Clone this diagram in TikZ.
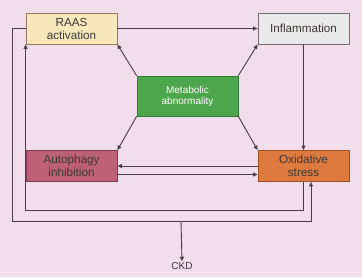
\documentclass[tikz,border=0pt]{standalone}
\usepackage{fontspec}
\setmainfont{Liberation Sans}
\usepackage{tikz}
\usetikzlibrary{arrows.meta,positioning,calc}
\definecolor{bgpink}{RGB}{242,221,234}
\definecolor{linedark}{RGB}{75,60,75}
\definecolor{txtdark}{RGB}{60,55,55}
\definecolor{raasfill}{RGB}{246,232,186}
\definecolor{raasline}{RGB}{150,120,95}
\definecolor{inflfill}{RGB}{233,233,233}
\definecolor{inflline}{RGB}{115,110,115}
\definecolor{metafill}{RGB}{76,166,76}
\definecolor{metaline}{RGB}{50,120,55}
\definecolor{autofill}{RGB}{190,96,122}
\definecolor{autoline}{RGB}{130,60,80}
\definecolor{oxidfill}{RGB}{222,122,62}
\definecolor{oxidline}{RGB}{160,80,40}

\begin{document}
\begin{tikzpicture}[x=1pt, y=-1pt,
    box/.style={draw, line width=0.8pt, minimum height=31pt, minimum width=91pt, inner sep=1pt, font=\fontsize{11.7}{13}\selectfont, align=center, text=txtdark},
    arr/.style={-{Triangle[length=4.5pt,width=4pt]}, line width=0.9pt, draw=linedark}
]
\fill[bgpink] (0,0) rectangle (362,277);
\useasboundingbox (0,0) rectangle (362,277);

\node[box, fill=raasfill, draw=raasline] (raas) at (71.5,28.5) {RAAS\\activation};
\node[box, fill=inflfill, draw=inflline] (infl) at (303.5,28.5) {Inflammation};
\node[box, fill=metafill, draw=metaline, minimum width=101pt, minimum height=40pt, text=white, font=\fontsize{10}{11}\selectfont] (meta) at (187.5,96) {Metabolic\\abnormality};
\node[box, fill=autofill, draw=autoline] (auto) at (71.5,166) {Autophagy\\inhibition};
\node[box, fill=oxidfill, draw=oxidline] (oxid) at (303.5,166) {Oxidative\\stress};
\node[font=\fontsize{10}{12}\selectfont, text=txtdark, inner sep=1pt] (ckd) at (182,266) {CKD};

\draw[arr] (meta.north west) -- (raas.south east);
\draw[arr] (meta.north east) -- (infl.south west);
\draw[arr] (meta.south west) -- (auto.north east);
\draw[arr] (meta.south east) -- (oxid.north west);

\draw[arr] (raas) -- (infl);
\draw[arr] (infl) -- (oxid);
\draw[arr] (oxid.west) -- (auto.east);
\draw[arr] ([yshift=-8.5pt]auto.east) -- ([yshift=-8.5pt]oxid.west);

% loops under the boxes
\coordinate (split) at (181,221);
\draw[arr] (raas.west) -| (12,221) -| ([xshift=7.5pt]oxid.south);
\draw[arr] (oxid.south) -- ++(0,29) -| (raas.south west);
\draw[arr] (split) -- (ckd.north);
\end{tikzpicture}
\end{document}
